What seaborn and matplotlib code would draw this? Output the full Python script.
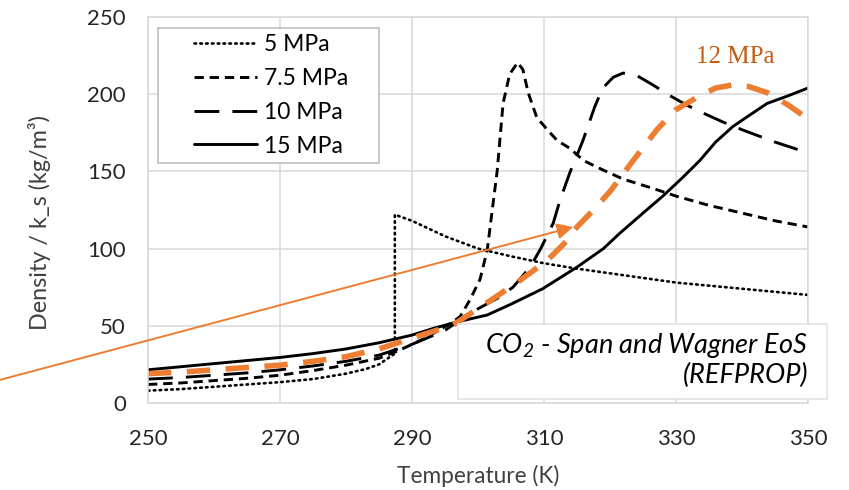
import matplotlib
matplotlib.use("Agg")
import matplotlib.pyplot as plt
from matplotlib.patches import Rectangle
import pandas as pd
import seaborn as sns

# Density / k_s of CO2 versus temperature at several pressures
t_5 = [250, 255, 260, 265, 270, 275, 280, 283, 285, 287.4, 287.4, 290, 295, 300,
       305, 310, 315, 320, 325, 330, 335, 340, 345, 350]
v_5 = [8, 9, 10.5, 12, 13.5, 15.5, 19, 22, 25, 32, 122, 118, 108, 100,
       95, 90.5, 87, 84, 81, 78, 76, 74, 72, 70]

t_75 = [250, 255, 260, 265, 270, 275, 280, 285, 288, 290, 292, 294, 296, 297.3,
        298.8, 300.3, 301.4, 302.1, 302.9, 303.8, 304.8, 306, 306.8, 307.6,
        308.9, 310.5, 312, 313.9, 316, 318.9, 322, 326.5, 330, 335, 340, 345, 350]
v_75 = [12, 13, 14.5, 16, 18, 21, 24.5, 29, 34, 38, 42, 47, 52, 56,
        67, 80, 99, 123, 150, 194, 213, 220.5, 216, 201,
        185, 177, 170, 165, 157, 151, 145, 139, 134, 128, 123, 118, 114]

t_10 = [250, 255, 260, 265, 270, 275, 280, 285, 290, 295, 297, 300, 303, 305.3,
        307.9, 309.5, 311.4, 312.4, 313.9, 315.9, 317.7, 318.9, 320.5, 322, 324.1,
        326.5, 329.1, 331.6, 334, 337.1, 340, 345, 350]
v_10 = [15.5, 16.5, 18, 19.5, 21.5, 24, 27, 31, 38, 47, 53, 61, 68, 75,
        88, 100, 116.5, 131, 149, 170, 192, 204, 211, 213.7, 212,
        206, 199, 193, 188, 182, 177, 169, 162]

t_12 = [250, 255, 260, 265, 270, 275, 280, 285, 290, 296.2, 301.4, 305.9, 310.4,
        313, 315, 317.5, 320, 323.5, 327.1, 330, 333.2, 336, 338.6, 341, 343.8,
        347, 350]
v_12 = [19, 20, 21.5, 23, 24.5, 27, 30, 35, 42, 50.5, 65, 78, 92,
        103, 114, 125, 137, 157, 177, 190, 198, 204, 206, 205, 201,
        193, 184]

t_15 = [250, 255, 260, 265, 270, 275, 280, 285, 290, 293, 296.8, 301.4, 305,
        309.8, 315, 319, 321.5, 325, 328, 331, 333.6, 336, 338.6, 341, 343.8,
        347, 350]
v_15 = [21.5, 23.5, 25.5, 27.5, 29.5, 32, 35, 39, 44, 48, 52.5, 57, 64,
        74, 88, 100, 110, 123, 134, 146, 157, 169, 179, 186, 194,
        199, 204]

x_ticks = [250, 270, 290, 310, 330, 350]
y_ticks = [0, 50, 100, 150, 200, 250]

# Arrow pointing at the 12 MPa curve
arrow_tail = (227.6, 15)
arrow_head = (314.4, 114)

sns.set_theme(style="white")
plt.rcParams["font.family"] = ["Lato", "DejaVu Sans"]
plt.rcParams["mathtext.fontset"] = "custom"
plt.rcParams["mathtext.it"] = "Lato:italic"
plt.rcParams["mathtext.rm"] = "Lato:italic"

W, H = 849, 490
fig = plt.figure(figsize=(W / 100, H / 100), dpi=100)
ax = fig.add_axes([148 / W, 87 / H, 660 / W, 386 / H])

black = "#000000"
orange = "#ED7D31"

series = [
    ("5 MPa", t_5, v_5, dict(linestyle=(0, (0.6, 1.6)), linewidth=1.9, dash_capstyle="round")),
    ("7.5 MPa", t_75, v_75, dict(linestyle=(0, (3.2, 2.0)), linewidth=2.1)),
    ("10 MPa", t_10, v_10, dict(linestyle=(0, (8.5, 4.5)), linewidth=2.1)),
    ("15 MPa", t_15, v_15, dict(linestyle="-", linewidth=2.1)),
]
for label, t, v, style in series:
    df = pd.DataFrame({"T": t, "v": v})
    sns.lineplot(data=df, x="T", y="v", ax=ax, color=black, label=label,
                 estimator=None, sort=False, **style)

df12 = pd.DataFrame({"T": t_12, "v": v_12})
sns.lineplot(data=df12, x="T", y="v", ax=ax, color=orange, linewidth=4.0,
             linestyle=(0, (4.2, 2.8)), estimator=None, sort=False, legend=False)

ax.set_xlim(250, 350)
ax.set_ylim(0, 250)
ax.set_xticks(x_ticks)
ax.set_yticks(y_ticks)
ax.grid(True, color="#D9D9D9", linewidth=1.1)
for sp in ax.spines.values():
    sp.set_color("#D9D9D9")
    sp.set_linewidth(1.1)
ax.tick_params(axis="both", length=0, labelsize=16, labelcolor="#262626")
ax.tick_params(axis="x", pad=19)
ax.tick_params(axis="y", pad=16)
ax.set_xlabel("")
ax.set_ylabel("")

fig.text(478 / W, (H - 476) / H, "Temperature (K)", fontsize=16.3,
         color="#404040", ha="center", va="center")
fig.text(40 / W, (H - 223) / H, "Density / k_s (kg/m³)", fontsize=16.8,
         color="#404040", ha="center", va="center", rotation=90)

# Legend: entries without frame, framed by a separate rectangle
leg = ax.legend(loc="upper left", bbox_to_anchor=(194 / W, (H - 34) / H),
                bbox_transform=fig.transFigure, fontsize=16.5, frameon=False,
                handlelength=2.75, handletextpad=0.3, labelspacing=0.56,
                borderpad=0, borderaxespad=0)
for txt in leg.get_texts():
    txt.set_color("#000000")
leg.set_zorder(8)
ax.add_patch(Rectangle((158 / W, (H - 163) / H), 221 / W, 135 / H,
                       transform=fig.transFigure, facecolor="white",
                       edgecolor="#BFBFBF", linewidth=1.2, zorder=7,
                       clip_on=False))

ax.text(339.0, (403 - 57) / 1.544, "12 MPa", color="#C55A11", fontsize=18,
        family=["Liberation Serif", "DejaVu Serif"], ha="center", va="center")

ax.annotate("", xy=arrow_head, xytext=arrow_tail, xycoords="data",
            textcoords="data", annotation_clip=False,
            arrowprops=dict(arrowstyle="-|>", color=orange, lw=1.4,
                            mutation_scale=24, shrinkA=0, shrinkB=0))

# Caption box for the equation of state
fig.patches.append(Rectangle((458 / W, 91 / H), 369 / W, 75 / H,
                             transform=fig.transFigure, facecolor="white",
                             edgecolor="#E3E3E3", linewidth=1.2, zorder=5))
fig.text(808 / W, (H - 346) / H, r"$CO_2$ - Span and Wagner EoS",
         ha="right", va="center", fontsize=19.5, style="italic", color="black",
         zorder=6)
fig.text(808 / W, (H - 375) / H, "(REFPROP)",
         ha="right", va="center", fontsize=19.5, style="italic", color="black",
         zorder=6)

fig.savefig("out.png", dpi=100)
